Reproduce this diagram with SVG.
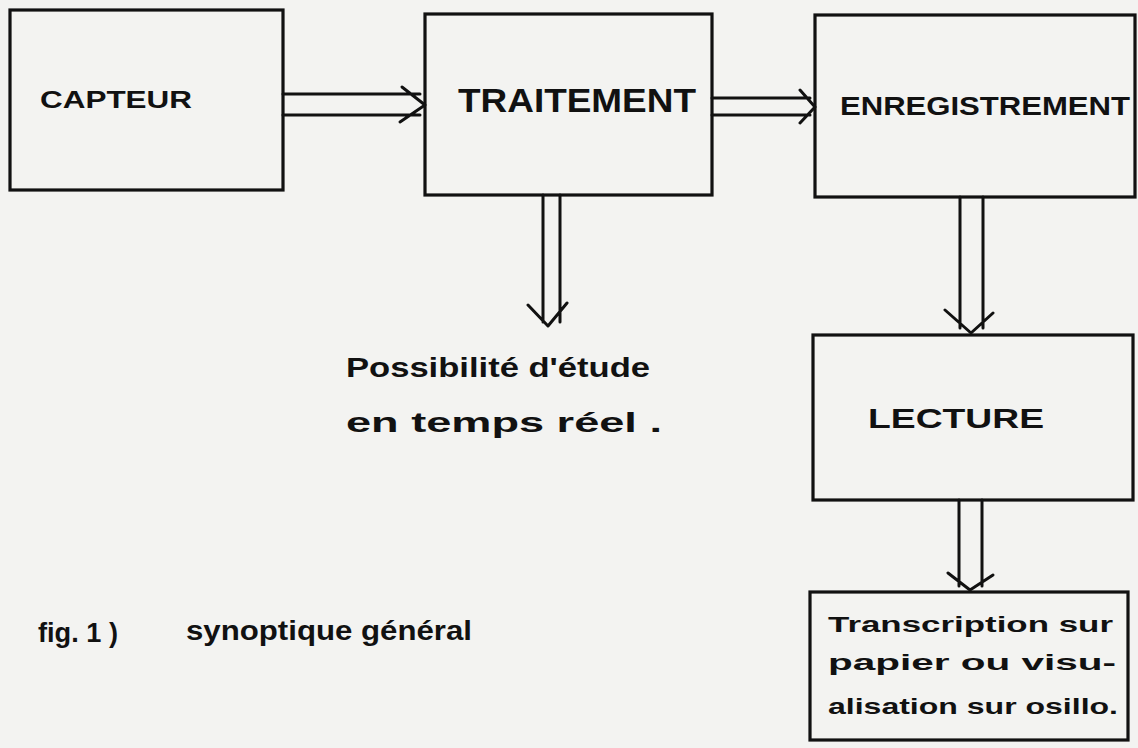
<svg xmlns="http://www.w3.org/2000/svg" width="1138" height="748" viewBox="0 0 1138 748">
<style>
.box{fill:none;stroke:#111;stroke-width:3.2;stroke-linejoin:miter}
.ln{fill:none;stroke:#111;stroke-width:3;stroke-linecap:round;stroke-linejoin:round}
.t{font-family:"Liberation Sans","DejaVu Sans",sans-serif;fill:#111;font-weight:bold}
.h{font-family:"Liberation Sans","DejaVu Sans",sans-serif;fill:#111;font-weight:bold}
</style>
<rect x="0" y="0" width="1138" height="748" fill="#f3f3f1"/>
<g id="capteur">
<rect class="box" x="10" y="10" width="273" height="180"/>
<text class="t" x="40" y="108" font-size="23" textLength="152" lengthAdjust="spacingAndGlyphs">CAPTEUR</text>
</g>
<g id="traitement">
<rect class="box" x="425" y="14" width="287" height="181"/>
<text class="t" x="458" y="112" font-size="33" textLength="238" lengthAdjust="spacingAndGlyphs">TRAITEMENT</text>
</g>
<g id="enregistrement">
<rect class="box" x="815" y="15" width="320" height="182"/>
<text class="t" x="840" y="115" font-size="25" textLength="290" lengthAdjust="spacingAndGlyphs">ENREGISTREMENT</text>
</g>
<g id="lecture">
<rect class="box" x="813" y="335" width="320" height="165"/>
<text class="t" x="868" y="428" font-size="27" textLength="176" lengthAdjust="spacingAndGlyphs">LECTURE</text>
</g>
<g id="transcription">
<rect class="box" x="810" y="592" width="318" height="148"/>
<text class="t" x="828" y="632" font-size="22" textLength="285" lengthAdjust="spacingAndGlyphs">Transcription sur</text>
<text class="t" x="828" y="670" font-size="22" textLength="288" lengthAdjust="spacingAndGlyphs">papier    ou visu-</text>
<text class="t" x="828" y="714" font-size="22" textLength="290" lengthAdjust="spacingAndGlyphs">alisation sur osillo.</text>
</g>
<g id="possibilite">
<text class="h" x="346" y="377" font-size="27" textLength="304" lengthAdjust="spacingAndGlyphs">Possibilité d'étude</text>
<text class="h" x="346" y="432" font-size="27" textLength="316" lengthAdjust="spacingAndGlyphs">en temps réel .</text>
</g>
<g id="caption">
<text class="h" x="38" y="642" font-size="27" textLength="80" lengthAdjust="spacingAndGlyphs">fig. 1 )</text>
<text class="h" x="186" y="640" font-size="27" textLength="286" lengthAdjust="spacingAndGlyphs">synoptique général</text>
</g>
<g id="connectors">
<path class="ln" d="M283 94 H420 M283 115 H420 M402 87 L425 105 L400 122"/>
<path class="ln" d="M712 98 H810 M712 115 H810 M800 90 L815 107 L800 123"/>
<path class="ln" d="M543 195 V322 M560 195 V322 M528 305 L548 326 L567 303"/>
<path class="ln" d="M960 197 V328 M983 197 V328 M945 310 L971 333 L993 313"/>
<path class="ln" d="M959 500 V586 M982 500 V586 M948 573 L970 590 L993 575"/>
</g>
</svg>
